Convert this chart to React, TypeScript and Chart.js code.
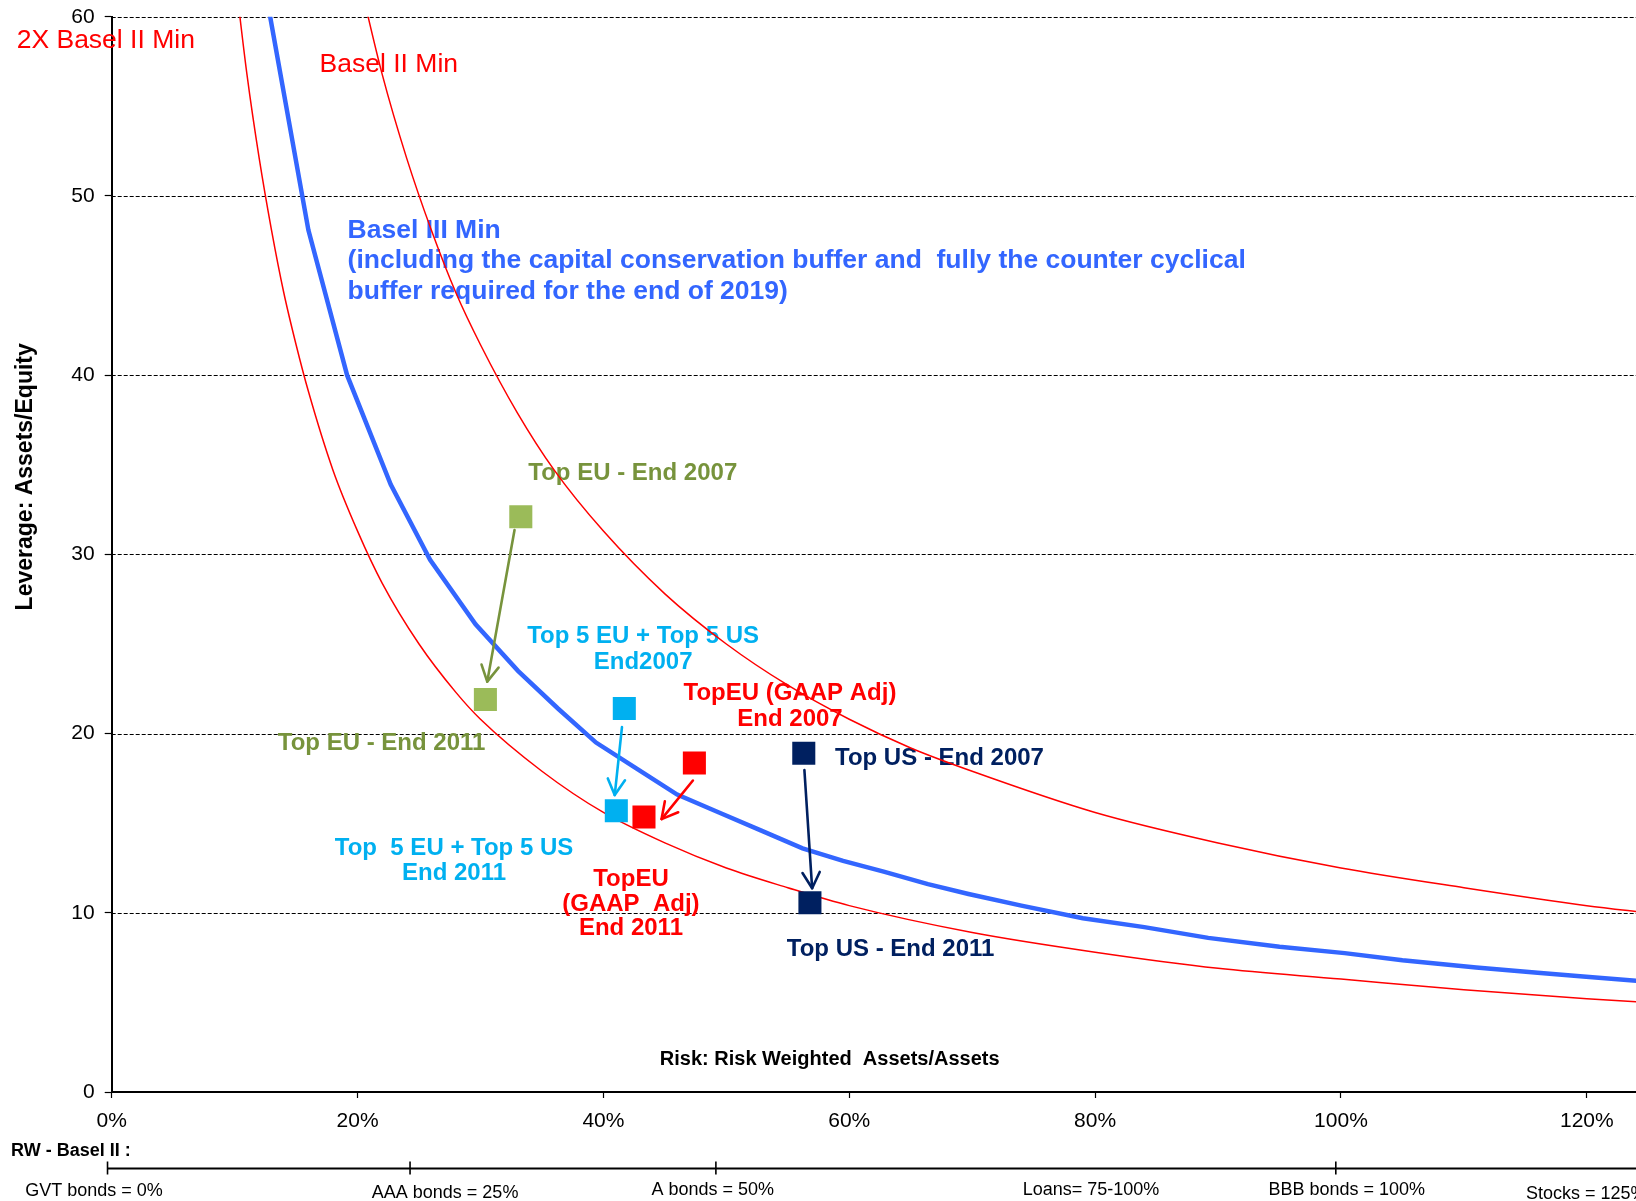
import React, { useEffect, useRef } from "react";
import { Chart, registerables } from "chart.js";

Chart.register(...registerables);

// ---------- DATA ----------
// Basel III minimum (incl. conservation + counter-cyclical buffers)
const basel3X = [0.125, 0.16, 0.1915, 0.227, 0.259, 0.296, 0.3305, 0.363, 0.394, 0.428, 0.46, 0.494, 0.528, 0.562, 0.595, 0.628, 0.664, 0.697, 0.74, 0.79, 0.84, 0.892, 0.95, 1.003, 1.05, 1.11, 1.16, 1.197, 1.25];
const basel3Y = [61.5, 48.1, 40.0, 33.9, 29.7, 26.1, 23.5, 21.4, 19.5, 18.0, 16.6, 15.6, 14.6, 13.6, 12.9, 12.3, 11.6, 11.05, 10.4, 9.7, 9.2, 8.6, 8.1, 7.75, 7.35, 6.95, 6.65, 6.45, 6.15];

// Basel II minimum
const basel2X = [0.2, 0.22, 0.24, 0.26, 0.28, 0.3, 0.33, 0.36, 0.4, 0.45, 0.5, 0.55, 0.6, 0.65, 0.7, 0.8, 0.9, 1.0, 1.1, 1.2, 1.25];
const basel2Y = [62.5, 56.8, 52.1, 48.1, 44.6, 41.7, 37.9, 34.7, 31.3, 27.8, 25.0, 22.7, 20.8, 19.2, 17.9, 15.6, 13.9, 12.5, 11.4, 10.4, 10.0];

// 2X Basel II minimum
const basel2x2X = [0.1, 0.11, 0.12, 0.13, 0.14, 0.15, 0.16, 0.18, 0.2, 0.22, 0.25, 0.28, 0.3, 0.35, 0.4, 0.45, 0.5, 0.55, 0.6, 0.7, 0.8, 0.9, 1.0, 1.1, 1.2, 1.25];
const basel2x2Y = [62.5, 56.8, 52.1, 48.1, 44.6, 41.7, 39.1, 34.7, 31.3, 28.4, 25.0, 22.3, 20.8, 17.9, 15.6, 13.9, 12.5, 11.4, 10.4, 8.9, 7.8, 6.9, 6.3, 5.7, 5.2, 5.0];

// Bank groups: End 2007 and End 2011 (risk weight, leverage)
const groupNames = ["Top EU", "Top 5 EU + Top 5 US", "TopEU (GAAP Adj)", "Top US"];
const rw2007 = [0.3328, 0.417, 0.474, 0.563];
const lev2007 = [32.1, 21.4, 18.36, 18.9];
const rw2011 = [0.304, 0.4105, 0.433, 0.568];
const lev2011 = [21.9, 15.7, 15.35, 10.56];

// Arrow endpoints (2007 -> 2011)
const arrowFromX = [0.3277, 0.4151, 0.4728, 0.5635];
const arrowFromY = [31.36, 20.36, 17.38, 17.97];
const arrowToX = [0.3055, 0.4092, 0.4473, 0.5698];
const arrowToY = [22.9, 16.57, 15.23, 11.37];

// Axis ticks
const yTickValues = [0, 10, 20, 30, 40, 50, 60];
const xTickStep = 0.2;

// Texts
const yAxisTitle = "Leverage: Assets/Equity";
const xAxisTitle = "Risk: Risk Weighted  Assets/Assets";
const rwTitle = "RW - Basel II :";
const rwLabels = ["GVT bonds = 0%", "AAA bonds = 25%", "A bonds = 50%", "Loans= 75-100%", "BBB bonds = 100%", "Stocks = 125%"];
const rwLabelAt = [-0.0144, 0.2712, 0.4889, 0.7967, 1.0047, 1.1995];
const rwTickAt = [-0.0034, 0.2427, 0.4915, 0.9958];

const noteTexts: string[][] = [
  ["2X Basel II Min"],
  ["Basel II Min"],
  ["Basel III Min", "(including the capital conservation buffer and  fully the counter cyclical", "buffer required for the end of 2019)"],
  ["Top EU - End 2007"],
  ["Top EU - End 2011"],
  ["Top 5 EU + Top 5 US", "End2007"],
  ["Top  5 EU + Top 5 US", "End 2011"],
  ["TopEU (GAAP Adj)", "End 2007"],
  ["TopEU", "(GAAP  Adj)", "End 2011"],
  ["Top US - End 2007"],
  ["Top US - End 2011"],
  [xAxisTitle],
];

// ---------- STYLE / LAYOUT ----------
const W = 1636;
const H = 1201;
const PLOT_LEFT = 111.7;
const PLOT_TOP = 16.8;
const PLOT_BOTTOM = 1092;
const FONT = '"Liberation Sans", Arial, Helvetica, sans-serif';
const RED = "#FF0000";
const BLUE = "#3366FF";
const OLIVE = "#77933C";
const CYAN = "#00B0F0";
const NAVY = "#002060";
const markerColors = ["#9BBB59", CYAN, RED, NAVY];
const arrowColors = [OLIVE, CYAN, RED, NAVY];

type NoteLayout = { x: number; y: number; gap: number; align: CanvasTextAlign; color: string; font: string };
const B24 = `bold 24px ${FONT}`;
const R26 = `26.5px ${FONT}`;
const noteLayout: NoteLayout[] = [
  { x: -0.0773, y: 58.65, gap: 0, align: "left", color: RED, font: R26 },
  { x: 0.1691, y: 57.34, gap: 0, align: "left", color: RED, font: R26 },
  { x: 0.1919, y: 48.05, gap: 30.2, align: "left", color: BLUE, font: `bold 26.5px ${FONT}` },
  { x: 0.3389, y: 34.5, gap: 0, align: "left", color: OLIVE, font: B24 },
  { x: 0.1351, y: 19.46, gap: 0, align: "left", color: OLIVE, font: B24 },
  { x: 0.4323, y: 25.42, gap: 25.5, align: "center", color: CYAN, font: B24 },
  { x: 0.2785, y: 13.6, gap: 25, align: "center", color: CYAN, font: B24 },
  { x: 0.5518, y: 22.22, gap: 25.7, align: "center", color: RED, font: B24 },
  { x: 0.4224, y: 11.85, gap: 24.3, align: "center", color: RED, font: B24 },
  { x: 0.5884, y: 18.6, gap: 0, align: "left", color: NAVY, font: B24 },
  { x: 0.5492, y: 7.95, gap: 0, align: "left", color: NAVY, font: B24 },
  { x: 0.5841, y: 1.8, gap: 0, align: "center", color: "#000", font: `bold 20px ${FONT}` },
];

const decorPlugin = {
  id: "decor",
  beforeDatasetsDraw(chart: any) {
    const { ctx, chartArea } = chart;
    const xs = chart.scales.x;
    const ys = chart.scales.y;
    ctx.save();
    // dashed horizontal grid lines
    ctx.strokeStyle = "#000";
    ctx.lineWidth = 1;
    ctx.setLineDash([4, 2]);
    yTickValues.forEach((v) => {
      if (v === 0) return;
      const y = Math.round(ys.getPixelForValue(v)) + 0.5;
      ctx.beginPath();
      ctx.moveTo(chartArea.left, y);
      ctx.lineTo(chartArea.right, y);
      ctx.stroke();
    });
    ctx.setLineDash([]);
    // annotation texts
    ctx.textBaseline = "middle";
    noteTexts.forEach((lines, i) => {
      const L = noteLayout[i];
      ctx.font = L.font;
      ctx.fillStyle = L.color;
      ctx.textAlign = L.align;
      const x = xs.getPixelForValue(L.x);
      const y0 = ys.getPixelForValue(L.y);
      lines.forEach((t, j) => ctx.fillText(t, x, y0 + j * L.gap));
    });
    ctx.restore();
  },
  afterDatasetsDraw(chart: any) {
    const { ctx } = chart;
    const xs = chart.scales.x;
    const ys = chart.scales.y;
    ctx.save();
    arrowFromX.forEach((_, i) => {
      const x1 = xs.getPixelForValue(arrowFromX[i]);
      const y1 = ys.getPixelForValue(arrowFromY[i]);
      const x2 = xs.getPixelForValue(arrowToX[i]);
      const y2 = ys.getPixelForValue(arrowToY[i]);
      ctx.strokeStyle = arrowColors[i];
      ctx.lineWidth = 2.6;
      ctx.lineCap = "round";
      ctx.lineJoin = "round";
      ctx.beginPath();
      ctx.moveTo(x1, y1);
      ctx.lineTo(x2, y2);
      ctx.stroke();
      const a = Math.atan2(y2 - y1, x2 - x1);
      const len = 18;
      const h = 0.5;
      ctx.beginPath();
      ctx.moveTo(x2 - len * Math.cos(a - h), y2 - len * Math.sin(a - h));
      ctx.lineTo(x2, y2);
      ctx.lineTo(x2 - len * Math.cos(a + h), y2 - len * Math.sin(a + h));
      ctx.stroke();
    });
    ctx.restore();
  },
  afterDraw(chart: any) {
    const { ctx } = chart;
    const xs = chart.scales.x;
    ctx.save();
    // y-axis title
    ctx.translate(26, 476.8);
    ctx.rotate(-Math.PI / 2);
    ctx.font = `bold 23px ${FONT}`;
    ctx.fillStyle = "#000";
    ctx.textAlign = "center";
    ctx.textBaseline = "middle";
    ctx.fillText(yAxisTitle, 0, 0);
    ctx.restore();

    // RW - Basel II strip
    ctx.save();
    const lineY = 1168.5;
    ctx.fillStyle = "#000";
    ctx.font = `bold 18px ${FONT}`;
    ctx.textAlign = "left";
    ctx.textBaseline = "middle";
    ctx.fillText(rwTitle, 11, 1151.5);
    ctx.strokeStyle = "#000";
    ctx.lineWidth = 2;
    ctx.beginPath();
    ctx.moveTo(xs.getPixelForValue(rwTickAt[0]), lineY);
    ctx.lineTo(W, lineY);
    ctx.stroke();
    ctx.lineWidth = 1.6;
    rwTickAt.forEach((v) => {
      const x = xs.getPixelForValue(v);
      ctx.beginPath();
      ctx.moveTo(x, lineY - 7);
      ctx.lineTo(x, lineY + 6);
      ctx.stroke();
    });
    ctx.font = `18px ${FONT}`;
    ctx.textAlign = "center";
    const rwY = [1190.8, 1193.3, 1190.3, 1190.3, 1190, 1193.7];
    rwLabels.forEach((t, i) => {
      ctx.fillText(t, xs.getPixelForValue(rwLabelAt[i]), rwY[i]);
    });
    ctx.restore();
  },
};

export default function App() {
  const ref = useRef<HTMLCanvasElement | null>(null);

  useEffect(() => {
    if (!ref.current) return;
    const toPts = (xs: number[], ys: number[]) => xs.map((x, i) => ({ x, y: ys[i] }));
    const markerSets = groupNames.map((name, i) => ({
      label: name,
      data: [
        { x: rw2007[i], y: lev2007[i] },
        { x: rw2011[i], y: lev2011[i] },
      ],
      showLine: false,
      pointStyle: "rect",
      pointRadius: 16.3,
      pointHoverRadius: 16.3,
      pointBorderWidth: 0,
      backgroundColor: markerColors[i],
      borderColor: markerColors[i],
    }));
    const chart = new Chart(ref.current, {
      type: "scatter",
      data: {
        datasets: [
          ...markerSets,
          {
            label: "Basel III Min",
            data: toPts(basel3X, basel3Y),
            showLine: true,
            borderColor: BLUE,
            borderWidth: 4.5,
            pointRadius: 0,
            tension: 0,
            clip: 0,
          },
          {
            label: "Basel II Min",
            data: toPts(basel2X, basel2Y),
            showLine: true,
            borderColor: RED,
            borderWidth: 1.5,
            pointRadius: 0,
            cubicInterpolationMode: "monotone",
            clip: 0,
          },
          {
            label: "2X Basel II Min",
            data: toPts(basel2x2X, basel2x2Y),
            showLine: true,
            borderColor: RED,
            borderWidth: 1.5,
            pointRadius: 0,
            cubicInterpolationMode: "monotone",
            clip: 0,
          },
        ] as any,
      },
      options: {
        responsive: false,
        animation: false,
        events: [],
        layout: { autoPadding: false, padding: { top: PLOT_TOP, left: 0, right: 0, bottom: 0 } },
        plugins: {
          legend: { display: false },
          tooltip: { enabled: false },
          title: { display: false },
        },
        scales: {
          x: {
            type: "linear",
            min: 0,
            max: 1.24,
            afterFit: (s: any) => {
              s.height = H - PLOT_BOTTOM;
              s.paddingLeft = 0;
              s.paddingRight = 0;
            },
            ticks: {
              stepSize: xTickStep,
              includeBounds: false,
              color: "#000",
              font: { family: FONT, size: 21 },
              padding: 11,
              maxRotation: 0,
              callback: (v: any) => `${Math.round(Number(v) * 100)}%`,
            },
            grid: { drawOnChartArea: false, drawTicks: true, tickLength: 6, tickColor: "#000", tickWidth: 1.2 },
            border: { display: true, color: "#000", width: 2 },
          },
          y: {
            type: "linear",
            min: 0,
            max: 60,
            afterFit: (s: any) => {
              s.width = PLOT_LEFT;
              s.paddingTop = 0;
              s.paddingBottom = 0;
            },
            afterBuildTicks: (s: any) => {
              s.ticks = yTickValues.map((v) => ({ value: v }));
            },
            ticks: {
              color: "#000",
              font: { family: FONT, size: 21 },
              padding: 10,
            },
            grid: { drawOnChartArea: false, drawTicks: true, tickLength: 7, tickColor: "#000", tickWidth: 1.2 },
            border: { display: true, color: "#000", width: 2 },
          },
        },
      } as any,
      plugins: [decorPlugin],
    });
    return () => chart.destroy();
  }, []);

  return (
    <div style={{ position: "fixed", left: 0, top: 0, width: W, height: H, background: "#fff" }}>
      <canvas ref={ref} width={W} height={H} style={{ display: "block", width: W, height: H }} />
    </div>
  );
}
